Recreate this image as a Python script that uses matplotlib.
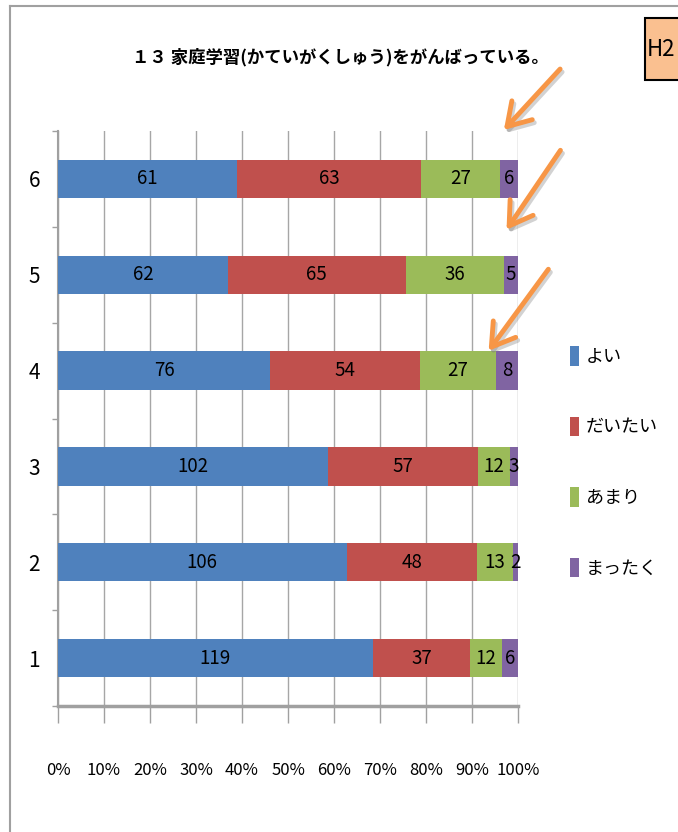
import matplotlib
matplotlib.use('Agg')
import matplotlib.pyplot as plt
from matplotlib.patches import FancyArrowPatch, Rectangle
from matplotlib.lines import Line2D
import numpy as np

plt.rcParams['font.family'] = ['Noto Sans CJK JP', 'DejaVu Sans']

# ---- data ----
categories = ['1', '2', '3', '4', '5', '6']
series_names = ['よい', 'だいたい', 'あまり', 'まったく']
yoi = [119, 106, 102, 76, 62, 61]
daitai = [37, 48, 57, 54, 65, 63]
amari = [12, 13, 12, 27, 36, 27]
mattaku = [6, 2, 3, 8, 5, 6]
x_tick_values = [0, 10, 20, 30, 40, 50, 60, 70, 80, 90, 100]
x_tick_labels = ['0%', '10%', '20%', '30%', '40%', '50%', '60%', '70%', '80%', '90%', '100%']
title = '１３ 家庭学習(かていがくしゅう)をがんばっている。'
badge = 'H2'

colors = ['#4F81BD', '#C0504D', '#9BBB59', '#8064A2']

W, H = 678, 832
fig = plt.figure(figsize=(W / 100, H / 100), dpi=100)

def fx(x):
    return x / W

def fy(y):
    return 1 - y / H

ax = fig.add_axes([fx(58), fy(706), (518 - 58) / W, (706 - 131) / H])

data = np.array([yoi, daitai, amari, mattaku], dtype=float)
pct = data / data.sum(axis=0) * 100
ypos = np.arange(1, len(categories) + 1)
left = np.zeros(len(categories))
for i in range(len(series_names)):
    bars = ax.barh(ypos, pct[i], left=left, height=0.4, color=colors[i],
                   label=series_names[i], zorder=3)
    ax.bar_label(bars, labels=[str(int(v)) for v in data[i]],
                 label_type='center', fontsize=13.5, color='black')
    left += pct[i]

ax.set_xlim(0, 100)
ax.set_ylim(0.5, len(categories) + 0.5)

ax.set_xticks(x_tick_values)
ax.set_xticklabels(x_tick_labels, fontsize=12)
ax.tick_params(axis='x', direction='out', length=12, color='#A0A0A0', width=1, pad=28)
ax.xaxis.grid(True, color='#A6A6A6', lw=1, zorder=0)

ax.set_yticks(np.arange(0.5, len(categories) + 1, 1.0))
ax.set_yticklabels([])
ax.set_yticks(ypos, minor=True)
ax.set_yticklabels(categories, minor=True, fontsize=15)
ax.tick_params(axis='y', which='major', direction='out', length=4.5, color='#A0A0A0', width=1)
ax.tick_params(axis='y', which='minor', length=0, pad=13)

for s in ['top', 'right']:
    ax.spines[s].set_visible(False)
ax.spines['bottom'].set_color('#A0A0A0')
ax.spines['bottom'].set_linewidth(2.5)
ax.spines['left'].set_color('#A0A0A0')
ax.spines['left'].set_linewidth(1.5)

# legend
fig.legend(loc='upper left', bbox_to_anchor=(fx(554), fy(330)), frameon=False,
           fontsize=13, handlelength=0.5, handleheight=1.3, handletextpad=0.35,
           labelspacing=2.8)

# title
fig.text(fx(340), fy(57), title, ha='center', va='center', fontsize=12.5, fontweight='bold')

# frame lines
fig.add_artist(Line2D([fx(10), fx(10)], [0, fy(6)], color='#A0A0A0', lw=1.5,
                      transform=fig.transFigure))
fig.add_artist(Line2D([fx(10), 1], [fy(6), fy(6)], color='#A0A0A0', lw=1.5,
                      transform=fig.transFigure))

# badge
fig.add_artist(Rectangle((fx(645), fy(80)), (700 - 645) / W, (80 - 18) / H,
                         facecolor='#FAC090', edgecolor='black', lw=1.5,
                         transform=fig.transFigure))
fig.text(fx(647), fy(50), badge, ha='left', va='center', fontsize=16)

# arrows
arrows = [((562, 67), (502, 132)), ((562, 148), (505, 232)), ((550, 267), (487, 353))]
for (x0, y0), (x1, y1) in arrows:
    sh = FancyArrowPatch((fx(x0 + 2), fy(y0 + 3)), (fx(x1 + 2), fy(y1 + 3)),
                         arrowstyle='->,head_length=0.8,head_width=0.5',
                         mutation_scale=20, lw=3.5, color='#808080', alpha=0.35,
                         transform=fig.transFigure)
    fig.add_artist(sh)
    ar = FancyArrowPatch((fx(x0), fy(y0)), (fx(x1), fy(y1)),
                         arrowstyle='->,head_length=0.8,head_width=0.5',
                         mutation_scale=20, lw=3.5, color='#F79646',
                         transform=fig.transFigure)
    fig.add_artist(ar)

fig.savefig('out.png', dpi=100)
